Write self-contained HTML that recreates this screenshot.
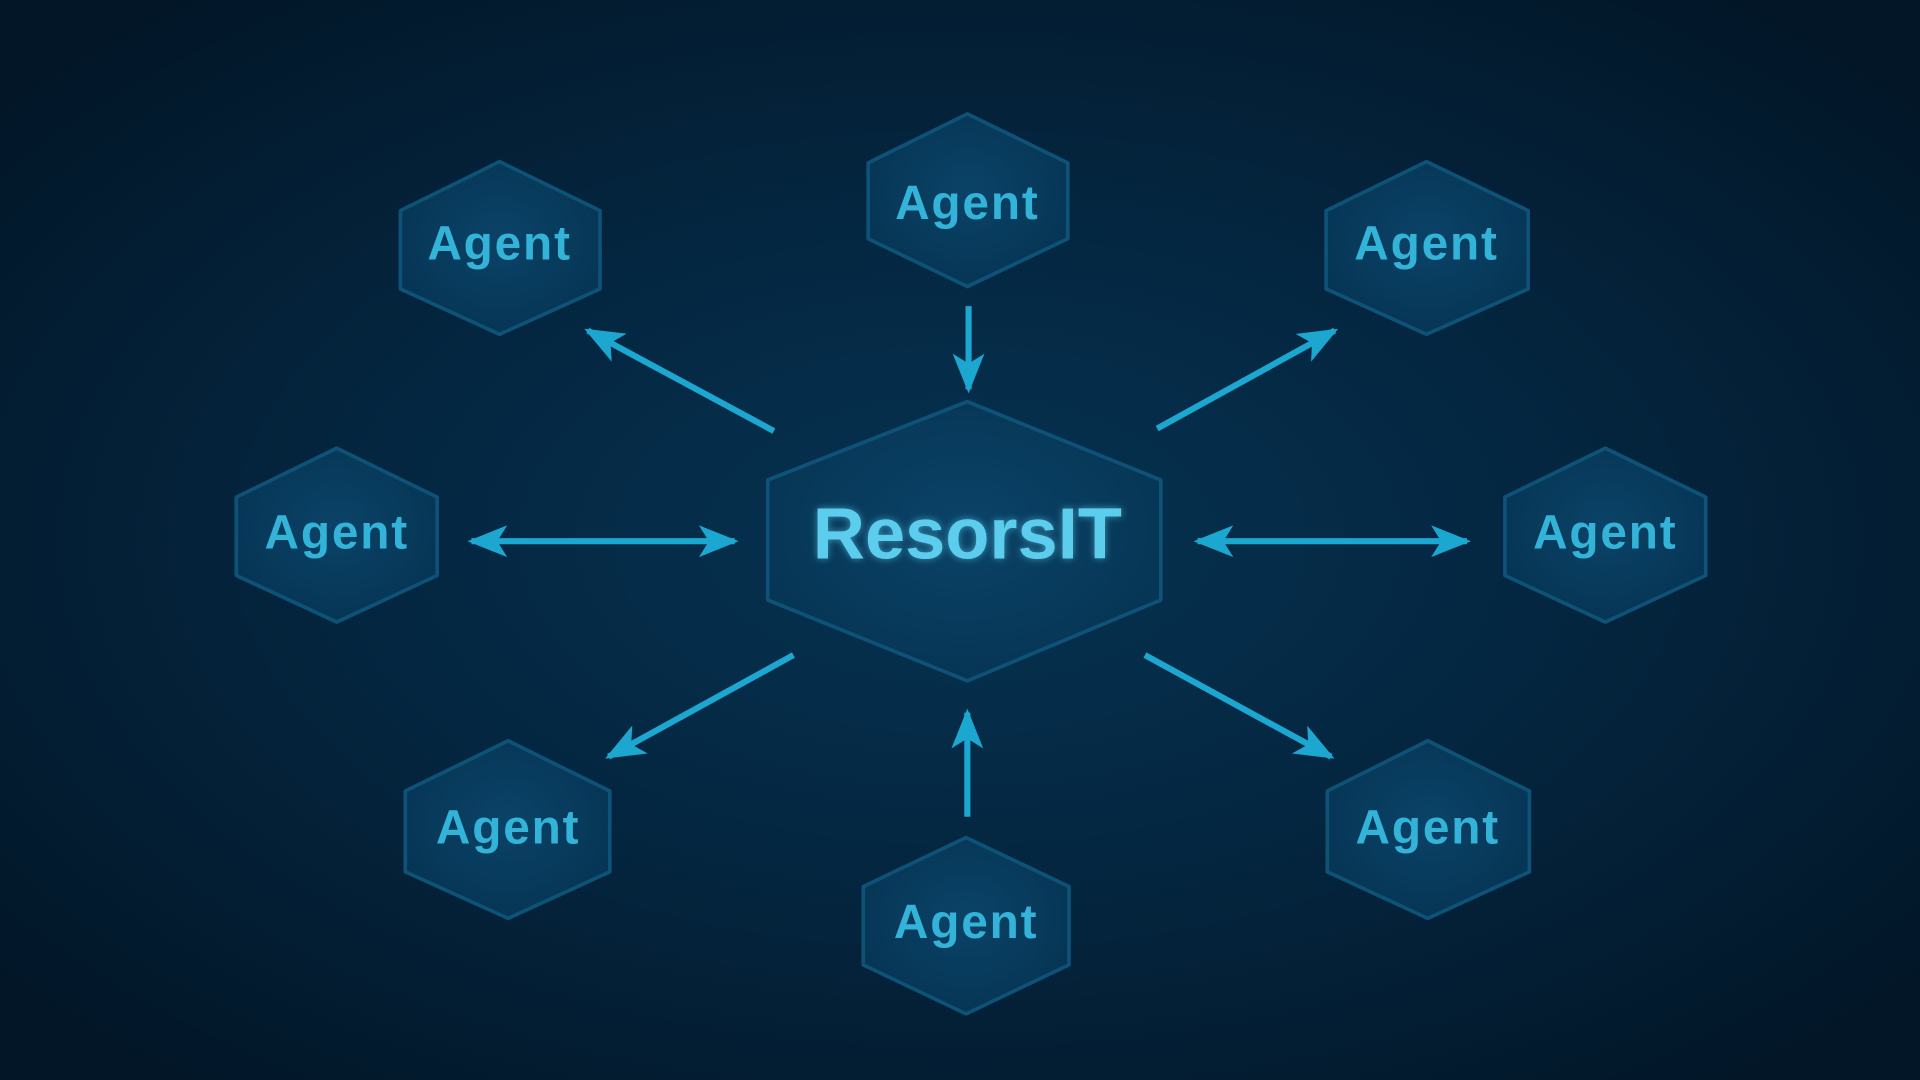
<!DOCTYPE html>
<html><head><meta charset="utf-8"><style>
html,body{margin:0;padding:0;width:1920px;height:1080px;overflow:hidden;background:#03192b}
svg{display:block}
</style></head><body>
<svg width="1920" height="1080" viewBox="0 0 1568 882" preserveAspectRatio="none" xmlns="http://www.w3.org/2000/svg">
<defs>
<radialGradient id="bg" cx="50%" cy="50%" r="65%">
<stop offset="0" stop-color="#063352"/><stop offset="0.55" stop-color="#04243d"/><stop offset="1" stop-color="#021627"/>
</radialGradient>
<radialGradient id="hexg" cx="50%" cy="45%" r="60%">
<stop offset="0" stop-color="#0a4368"/><stop offset="1" stop-color="#063453"/>
</radialGradient>
<marker id="ah" viewBox="0 0 20 16" refX="18" refY="8" markerWidth="6.5" markerHeight="5.2" orient="auto-start-reverse" markerUnits="strokeWidth">
<path d="M0,0 L20,8 L0,16 L5,8 Z" fill="#1ca7d1"/>
</marker>
<filter id="glow" x="-20%" y="-20%" width="140%" height="140%"><feGaussianBlur stdDeviation="3"/></filter>
</defs>
<rect width="1568" height="882" fill="url(#bg)"/>
<g stroke="#0e5278" stroke-width="3" stroke-linejoin="round" fill="url(#hexg)">
<polygon points="790,328 948,392 948,490 790,556 627,490 627,392"/>
<polygon points="790,93 872,133 872,195 790,234 709,195 709,133"/>
<polygon points="408,132 490,172 490,236 408,273 327,236 327,172"/>
<polygon points="1165,132 1248,172 1248,236 1165,273 1083,236 1083,172"/>
<polygon points="275,366 357,406 357,470 275,508 193,470 193,406"/>
<polygon points="1311,366 1393,406 1393,470 1311,508 1229,470 1229,406"/>
<polygon points="415,605 498,646 498,712 415,750 331,712 331,646"/>
<polygon points="1166,605 1249,646 1249,712 1166,750 1084,712 1084,646"/>
<polygon points="789,684 873,724 873,788 789,828 705,788 705,724"/>
</g>
<g stroke="#1ca7d1" stroke-width="5" fill="none" marker-end="url(#ah)">
<line x1="632" y1="352" x2="480" y2="270"/>
<line x1="791" y1="250" x2="791" y2="318"/>
<line x1="945" y1="350" x2="1090" y2="270"/>
<line x1="648" y1="535" x2="497" y2="618"/>
<line x1="790" y1="667" x2="790" y2="582"/>
<line x1="935" y1="535" x2="1087" y2="618"/>
<line x1="385" y1="442" x2="600" y2="442" marker-start="url(#ah)"/>
<line x1="978" y1="442" x2="1198" y2="442" marker-start="url(#ah)"/>
</g>
<g font-family="Liberation Sans, DejaVu Sans, sans-serif" font-weight="bold" text-anchor="middle">
<text x="790" y="456" font-size="59" fill="#5fd0ee" filter="url(#glow)" opacity="0.6">ResorsIT</text>
<text x="790" y="456" font-size="59" fill="#5ccdec">ResorsIT</text>
<g font-size="39" fill="#34b3d9" letter-spacing="1.5">
<text x="790" y="179">Agent</text>
<text x="408" y="212">Agent</text>
<text x="1165" y="212">Agent</text>
<text x="275" y="448">Agent</text>
<text x="1311" y="448">Agent</text>
<text x="415" y="689">Agent</text>
<text x="1166" y="689">Agent</text>
<text x="789" y="766">Agent</text>
</g>
</g>
</svg>
</body></html>
